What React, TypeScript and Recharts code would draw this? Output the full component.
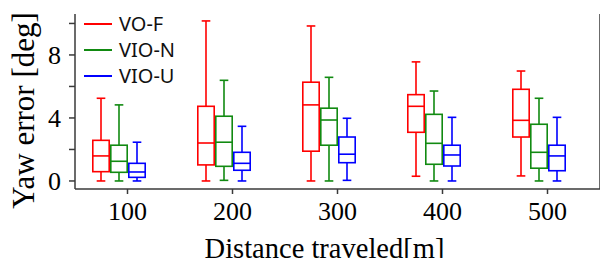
import { BarChart, Bar, XAxis, YAxis } from 'recharts';

// box stats per distance: [min, q1, median, q3, max]
const distances = ['100', '200', '300', '400', '500'];
const voF = [
  [0, 0.59, 1.59, 2.58, 5.25],
  [0, 1.02, 2.41, 4.74, 10.16],
  [0, 1.89, 4.83, 6.27, 9.84],
  [0.3, 3.09, 4.74, 5.48, 7.56],
  [0.32, 2.79, 3.85, 5.82, 6.98],
];
const vioN = [
  [0, 0.55, 1.25, 2.27, 4.83],
  [0.04, 0.93, 2.46, 4.11, 6.39],
  [0, 2.27, 3.87, 4.62, 6.58],
  [0, 1.06, 2.39, 4.23, 5.71],
  [0, 0.81, 1.82, 3.6, 5.25],
];
const vioU = [
  [0, 0.23, 0.57, 1.12, 2.46],
  [0, 0.68, 1.12, 1.82, 3.47],
  [0.04, 1.16, 1.7, 2.79, 3.98],
  [0, 0.95, 1.65, 2.27, 4.04],
  [0, 0.65, 1.59, 2.27, 4.04],
];
const yTicks = [0, 2, 4, 6, 8, 10];

const SERIES = [
  { key: 'voF', name: 'VO-F', color: '#ff0000' },
  { key: 'vioN', name: 'VIO-N', color: '#118a11' },
  { key: 'vioU', name: 'VIO-U', color: '#0000ff' },
];

const rows = distances.map((d, i) => ({ dist: d, voF: voF[i], vioN: vioN[i], vioU: vioU[i] }));

const AXIS = '#3a3a3a';
const SERIF = '"Liberation Serif", "Times New Roman", serif';

function BoxShape(props: any) {
  const { x, y, width, height, payload, k, color } = props;
  const s = payload?.[k];
  if (!s) return null;
  const [mn, q1, md, q3, mx] = s;
  const top = Math.min(y, y + height);
  const bottom = Math.max(y, y + height);
  // map a value onto the bar's own [min, max] pixel span
  const py = (v: number) => bottom - ((v - mn) / (mx - mn)) * (bottom - top);
  const cx = x + width / 2;
  const cap = width * 0.24;
  const sw = 1.6;
  return (
    <g stroke={color} strokeWidth={sw} fill="none">
      <line x1={cx} x2={cx} y1={py(mx)} y2={py(q3)} />
      <line x1={cx} x2={cx} y1={py(q1)} y2={py(mn)} />
      <line x1={cx - cap} x2={cx + cap} y1={py(mx)} y2={py(mx)} />
      <line x1={cx - cap} x2={cx + cap} y1={py(mn)} y2={py(mn)} />
      <rect x={x + 0.8} y={py(q3)} width={width - 1.6} height={py(q1) - py(q3)} />
      <line x1={x + 0.8} x2={x + width - 0.8} y1={py(md)} y2={py(md)} />
    </g>
  );
}

function LegendBox() {
  return (
    <div
      style={{
        position: 'absolute',
        top: 11,
        left: 84,
        fontFamily: '"Noto Sans", sans-serif',
        fontSize: 20,
        color: '#111',
        lineHeight: '26px',
      }}
    >
      {SERIES.map((s) => (
        <div key={s.key} style={{ display: 'flex', alignItems: 'center' }}>
          <span style={{ display: 'inline-block', width: 28, height: 2, background: s.color, marginRight: 7 }} />
          {s.name}
        </div>
      ))}
    </div>
  );
}

export default function App() {
  return (
    <div style={{ margin: -8, width: 608, height: 266, background: '#fff', position: 'relative' }}>
      <BarChart
        width={608}
        height={266}
        data={rows}
        margin={{ top: 14, right: 0, left: 0, bottom: 0 }}
        barSize={18}
        barGap={0}
      >
        <XAxis
          dataKey="dist"
          height={77}
          tickSize={5}
          tickMargin={8}
          tickLine={{ stroke: AXIS, strokeWidth: 1.5 }}
          axisLine={{ stroke: AXIS, strokeWidth: 1.5 }}
          tick={{ fill: '#000', fontSize: 26, fontFamily: SERIF }}
          label={({ viewBox }: any) => (
            <text
              x={viewBox.x + viewBox.width / 2 - 13}
              y={258}
              textAnchor="middle"
              fontFamily={SERIF}
              fontSize={28.5}
              fill="#000"
            >
              Distance traveled[m]
            </text>
          )}
        />
        <XAxis xAxisId="top" dataKey="dist" orientation="top" height={0} tick={false} tickLine={false}
          axisLine={{ stroke: AXIS, strokeWidth: 1.5 }} />
        <YAxis
          width={75}
          domain={[-0.51, 10.6]}
          ticks={yTicks}
          interval={0}
          allowDataOverflow
          tickSize={6}
          tickMargin={8}
          tickFormatter={(v: number) => (v % 4 === 0 ? String(v) : '')}
          tickLine={{ stroke: AXIS, strokeWidth: 1.5 }}
          axisLine={{ stroke: AXIS, strokeWidth: 1.5 }}
          tick={{ fill: '#000', fontSize: 26, fontFamily: SERIF }}
          label={({ viewBox }: any) => {
            const cx = viewBox.x + 23;
            const cy = viewBox.y + viewBox.height / 2 + 9;
            return (
              <text
                x={cx}
                y={cy}
                transform={`rotate(-90 ${cx} ${cy})`}
                textAnchor="middle"
                dominantBaseline="central"
                fontFamily={SERIF}
                fontSize={31}
                fill="#000"
              >
                Yaw error [deg]
              </text>
            );
          }}
        />
        <YAxis yAxisId="right" orientation="right" width={8} tick={false} tickLine={false}
          axisLine={{ stroke: AXIS, strokeWidth: 1.5 }} />
        {SERIES.map((s) => (
          <Bar
            key={s.key}
            dataKey={(d: any) => [d[s.key][0], d[s.key][4]]}
            name={s.name}
            isAnimationActive={false}
            shape={(p: any) => <BoxShape {...p} k={s.key} color={s.color} />}
          />
        ))}
        {/* empty fourth slot: the source groups leave one box-width free on the right */}
        <Bar dataKey="pad" legendType="none" isAnimationActive={false} />
      </BarChart>
      <LegendBox />
    </div>
  );
}
